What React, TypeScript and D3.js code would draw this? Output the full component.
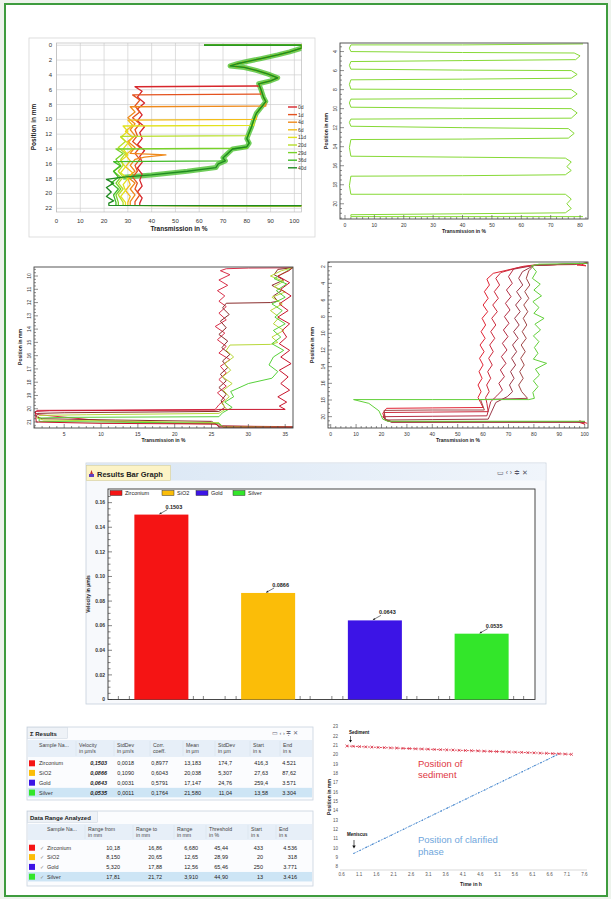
import React from 'react';
import * as d3 from 'd3';

const FONT = '"Liberation Sans", Arial, sans-serif';
type Pt = number[];

// ---------- top left: transmission profiles over 40 days
const p1Days = ['0d', '1d', '4d', '6d', '11d', '20d', '29d', '36d', '40d'];
const p1Colors = ['#d7262b', '#e4531f', '#ef8a1c', '#f3bd1a', '#e2e21e', '#b7df2a', '#78d22a', '#3fbb27', '#1f8a20'];
const p1Fronts = [5.5, 6.6, 8.2, 10.0, 10.8, 12.2, 13.9, 15.6, 17.9];
const p1Top: Pt[] = [[62, 0], [103, 0], [103, 0.4], [98, 0.9], [93, 1.3], [86, 1.8], [80, 2.2], [76, 2.5], [73, 2.8], [79, 3.0], [84, 3.4], [89, 3.9], [93, 4.4], [90, 4.8], [85, 5.2]];
const p1Right: Pt[] = [[86, 6], [87, 7], [88, 7.6], [86, 8.4], [84, 9.2], [83, 10], [82, 11], [81, 11.8], [80, 12.6], [81, 13.2], [80, 13.7], [74, 14.0], [72, 14.6], [70, 15.2], [71, 15.6], [68, 16.0], [67, 16.5]];
const p1Slope: Pt[] = [[55, 17.0], [40, 17.5], [28, 17.8]];
const p1Bodies: Pt[][] = [
  [[33, 5.6], [36, 6.2], [34, 7], [37, 7.8], [34, 8.6], [36, 9.4], [34, 10.2], [37, 11], [35, 11.8], [36, 12.6], [34, 13.4], [37, 14.2], [35, 15], [36, 15.8], [34, 16.6], [36, 17.4], [35, 18.2], [36, 19], [34, 19.8], [36, 20.6], [35, 21.3]],
  [[32, 6.7], [35, 7.4], [33, 8.2], [35, 9], [32, 9.8], [35, 10.6], [33, 11.4], [34, 12.2], [32, 13], [35, 13.8], [33, 14.6], [35, 15.4], [33, 16.2], [34, 17], [32, 17.8], [34, 18.6], [33, 19.4], [35, 20.2], [33, 21.1]],
  [[31, 8.3], [33, 9], [30, 9.8], [33, 10.6], [31, 11.4], [33, 12.2], [30, 13], [33, 13.8], [31, 14.6], [46, 14.8], [37, 15.1], [33, 15.4], [31, 16.2], [33, 17], [30, 17.8], [33, 18.6], [31, 19.4], [33, 20.2], [31, 21.1]],
  [[30, 10.1], [32, 10.8], [29, 11.6], [32, 12.4], [30, 13.2], [32, 14], [29, 14.8], [31, 15.6], [29, 16.4], [32, 17.2], [30, 18], [31, 18.8], [29, 19.6], [31, 20.4], [30, 21.2]],
  [[28, 10.9], [30, 11.6], [27, 12.4], [30, 13.2], [28, 14], [30, 14.8], [27, 15.6], [29, 16.4], [27, 17.2], [30, 18], [28, 18.8], [29, 19.6], [27, 20.4], [29, 21.2]],
  [[27, 12.3], [29, 13], [26, 13.8], [29, 14.6], [27, 15.4], [28, 16.2], [26, 17], [28, 17.8], [26, 18.6], [28, 19.4], [26, 20.2], [28, 21.2]],
  [[25, 14], [28, 14.6], [25, 15.4], [27, 16.2], [24, 17], [27, 17.8], [25, 18.6], [27, 19.4], [25, 20.2], [26, 21.2]],
  [[24, 15.7], [27, 16.3], [24, 17], [26, 17.8], [23, 18.6], [26, 19.4], [24, 20.2], [25, 21.2]],
  [[21, 18.1], [24, 18.6], [21, 19.2], [23, 19.8], [21, 20.4], [24, 21], [22, 21.3]],
];
const p1XTicks = [0, 10, 20, 30, 40, 50, 60, 70, 80, 90, 100];
const p1YTicks = [0, 2, 4, 6, 8, 10, 12, 14, 16, 18, 20, 22];

// ---------- top right: single scan
const p2Path: Pt[] = [
  [81, 3.2], [40, 3.3], [2, 3.3], [1.5, 3.65], [2, 4.0], [40, 4.1], [78, 4.15], [80, 4.45], [78.5, 4.85], [40, 4.95], [2, 5.05],
  [1.5, 5.45], [2, 5.85], [40, 5.95], [77, 6.0], [79, 6.4], [77, 6.8], [40, 6.9], [2, 6.97], [1.5, 7.45], [2, 7.95], [40, 8.0],
  [77, 8.0], [79, 8.45], [77, 8.9], [40, 8.95], [2, 9.0], [1.5, 9.4], [2, 9.85], [40, 9.95], [77, 10.0], [79, 10.45], [77, 11.0],
  [40, 11.05], [2, 11.1], [1.5, 11.45], [2, 11.85], [40, 12.0], [76, 12.1], [78, 12.6], [76, 13.1], [40, 13.2], [2, 13.25],
  [1.5, 14.1], [2, 15.0], [40, 15.1], [75, 15.2], [77, 15.6], [75.5, 16.1], [77, 16.5], [75, 16.95], [40, 17.05], [2, 17.1],
  [1.5, 18.1], [2, 19.0], [40, 19.0], [75, 19.0], [77, 19.5], [75.5, 20.0], [77, 20.5], [75, 20.95], [40, 21.05], [2, 21.15],
  [2, 21.35], [81, 21.35],
];
const p2XTicks = [0, 10, 20, 30, 40, 50, 60, 70, 80];
const p2YTicks = [4, 6, 8, 10, 12, 14, 16, 18, 20];

// ---------- middle left
const p3Colors = ['#d8304a', '#8a2e2e', '#b8d83a', '#56d13a', '#c8142c'];
const p3Series: Pt[][] = [
  [[36, 9.38], [30, 9.4], [27, 9.45], [26.2, 9.6], [27.5, 9.9], [26, 10.3], [27.2, 10.7], [25.8, 11.1], [26.8, 11.5], [26, 11.9], [27, 12.3], [26, 12.8], [27, 13.3], [25.5, 13.8], [26.8, 14.3], [25.8, 14.8], [27, 15.3], [26, 15.8], [27.5, 16.3], [26.2, 16.8], [27, 17.3], [26, 17.8], [27, 18.3], [25.8, 18.8], [26.8, 19.3], [26, 19.7], [25.5, 20.05], [10, 20.1], [1.3, 20.12], [1.0, 20.3], [1.6, 20.45], [10, 20.9], [20, 21.1], [26, 21.15], [26.5, 21.3], [36, 21.35]],
  [[36, 9.38], [34, 9.5], [33.5, 9.9], [34.8, 10.3], [33.2, 10.7], [34.5, 11.1], [33.4, 11.5], [34, 11.9], [33, 12.0], [27, 12.05], [26.5, 12.4], [27.4, 12.9], [26.2, 13.4], [27, 13.9], [26, 14.4], [27.2, 14.9], [26.4, 15.4], [27.5, 15.9], [26.5, 16.4], [27.2, 16.9], [26.2, 17.4], [27, 17.9], [26, 18.4], [27, 18.9], [26.3, 19.4], [26.8, 19.9], [26, 20.2], [5, 20.3], [1.4, 20.35], [1.2, 20.6], [2, 20.75], [12, 20.85], [25, 20.95], [26, 21.3], [36, 21.38]],
  [[36, 9.38], [34.5, 9.6], [33, 10], [34.8, 10.4], [33.5, 10.8], [35, 11.2], [33.2, 11.6], [34.6, 12.1], [33, 12.6], [34.2, 13.1], [33.4, 13.6], [34.8, 14.1], [33.2, 14.6], [34, 15.0], [33, 15.15], [27.5, 15.2], [27, 15.6], [28, 16.1], [26.8, 16.6], [27.6, 17.1], [26.5, 17.6], [27.8, 18.1], [26.6, 18.6], [27.4, 19.1], [26.4, 19.6], [27, 20.0], [26, 20.35], [8, 20.45], [1.6, 20.5], [1.3, 20.7], [2.2, 20.85], [15, 20.95], [26, 21.05], [26.5, 21.35], [36, 21.4]],
  [[36, 9.38], [35, 9.7], [33.5, 10.2], [35.2, 10.6], [33.8, 11.1], [35, 11.6], [33.2, 12.1], [34.6, 12.6], [33.6, 13.1], [35, 13.6], [33.4, 14.1], [34.4, 14.6], [33.2, 15.1], [34.8, 15.6], [33.4, 16.1], [32.8, 16.7], [34, 17.2], [33.2, 17.7], [30, 18.1], [27.6, 18.7], [28, 19.1], [26.8, 19.5], [27.8, 19.9], [26.5, 20.3], [26, 20.6], [5, 20.65], [1.6, 20.7], [1.6, 20.95], [10, 21.0], [26, 21.1], [26.6, 21.4], [36, 21.42]],
  [[36, 9.38], [35.5, 9.6], [34, 10], [35.6, 10.5], [34.4, 11], [35.8, 11.5], [34.2, 12.1], [35.4, 12.6], [34, 13.1], [35.6, 13.6], [34.6, 14.1], [35.2, 14.6], [34.2, 15.1], [35.6, 15.6], [34.4, 16.1], [35.8, 16.6], [34.2, 17.1], [35.4, 17.6], [34.4, 18.1], [35.6, 18.6], [34, 19.1], [35.2, 19.5], [34.2, 19.8], [35, 20.05], [26, 20.05], [25.5, 20.1], [3, 20.15], [1.1, 20.2], [1.2, 21.0], [10, 21.1], [25.6, 21.15], [26, 21.38], [36, 21.4]],
];
const p3XTicks = [5, 10, 15, 20, 25, 30, 35];
const p3YTicks = [10, 11, 12, 13, 14, 15, 16, 17, 18, 19, 20, 21];

// ---------- middle right
const p4Colors = ['#e02434', '#cc2a3c', '#b42f45', '#9c3a4a', '#a04848', '#62d03a'];
const p4Series: Pt[][] = [
  [[101, 1.5], [97, 1.8], [100.5, 1.9], [98, 1.6], [96, 1.75], [80, 1.8], [76, 1.95], [64, 2.8], [61.5, 3.5], [62.5, 4.2], [60.5, 5], [62, 5.8], [60, 6.6], [61.8, 7.4], [59.6, 8.2], [61, 9], [59.2, 9.8], [60.8, 10.6], [58.8, 11.4], [60.4, 12.2], [58.6, 13], [60, 13.8], [58.4, 14.6], [59.6, 15.4], [58, 16.2], [59.2, 17], [58, 17.7], [59, 18.3], [60, 18.9], [40, 18.95], [22, 19.0], [20.5, 19.6], [21.5, 20.4], [24, 20.6], [97, 20.6], [100, 20.9], [98, 20.5], [101, 20.8]],
  [[101, 1.6], [80, 1.85], [74, 2.1], [67, 2.7], [65, 3.4], [66.5, 4.2], [64.4, 5], [66, 5.8], [63.8, 6.6], [65.6, 7.4], [63.4, 8.2], [65, 9], [63, 9.8], [64.6, 10.6], [62.6, 11.4], [64, 12.2], [62.2, 13], [63.6, 13.8], [61.8, 14.6], [63, 15.4], [61.4, 16.2], [62.4, 17], [61, 17.7], [61.5, 18.4], [62, 19.4], [40, 19.45], [21, 19.5], [21.5, 20.4], [24, 20.62], [100, 20.62]],
  [[101, 1.6], [80, 1.85], [72, 2.3], [70, 3.2], [71.5, 4], [69.2, 4.8], [71, 5.6], [68.8, 6.4], [70.6, 7.2], [68.4, 8], [70.2, 8.8], [68, 9.6], [69.8, 10.4], [67.6, 11.2], [69.4, 12], [67.2, 12.8], [69, 13.6], [66.8, 14.4], [68.4, 15.2], [66.2, 16], [67.6, 16.8], [65.4, 17.5], [63, 18.2], [61.5, 19.9], [40, 19.95], [20.5, 20.0], [21.8, 20.45], [24, 20.64], [100, 20.64]],
  [[101, 1.6], [80, 1.85], [75.5, 2.6], [74, 3.4], [75.6, 4.2], [73.2, 5], [75, 5.8], [72.8, 6.6], [74.6, 7.4], [72.4, 8.2], [74.2, 9], [72, 9.8], [73.8, 10.6], [71.6, 11.4], [73.2, 12.2], [71.2, 13], [72.8, 13.8], [70.8, 14.6], [72.2, 15.4], [70.4, 16.2], [71.6, 17], [69.5, 17.6], [65, 18.3], [62, 20.3], [40, 20.35], [21.5, 20.4], [24, 20.66], [100, 20.66]],
  [[101, 1.6], [80, 1.85], [78, 2.5], [77, 3.4], [78.4, 4.2], [76.4, 5], [78, 5.8], [76, 6.6], [77.6, 7.4], [75.8, 8.2], [77.2, 9], [75.4, 9.8], [77, 10.6], [75, 11.4], [76.6, 12.2], [74.8, 13], [76.2, 13.8], [74.4, 14.6], [75.8, 15.4], [74, 16.2], [75.2, 17], [77.5, 17.8], [59, 17.95], [60.5, 19.2], [40, 19.2], [21, 19.25], [21.5, 20.3], [24, 20.6], [100, 20.6]],
  [[101, 1.6], [82, 1.7], [79, 1.9], [81, 2.6], [79.4, 3.4], [82.5, 4.1], [80, 4.8], [83, 5.5], [79.6, 6.2], [82, 6.9], [80, 7.6], [84, 8.2], [80.4, 8.9], [82.6, 9.6], [79.8, 10.3], [82, 11], [80.2, 11.7], [81.6, 12.4], [79.8, 13.1], [85, 13.6], [80.6, 14.3], [82.2, 15], [79.8, 15.7], [81.6, 16.4], [79.6, 17.1], [80.2, 17.8], [78, 17.95], [40, 17.95], [9, 17.95], [15, 18.4], [19, 19.3], [20.5, 20.3], [22.5, 20.55], [100, 20.55]],
];
const p4XTicks = [0, 10, 20, 30, 40, 50, 60, 70, 80, 90, 100];
const p4YTicks = [2, 4, 6, 8, 10, 12, 14, 16, 18, 20];

// ---------- bar graph
const samples = ['Zirconium', 'SiO2', 'Gold', 'Silver'];
const sampleColors = ['#f51414', '#fbbd08', '#3c14e6', '#33e62a'];
const velocities = [0.1503, 0.0866, 0.0643, 0.0535];
const barYTicks = [0, 0.02, 0.04, 0.06, 0.08, 0.1, 0.12, 0.14, 0.16];

// ---------- results tables
const resHeaders = [['Sample Na...', ''], ['Velocity', 'in µm/s'], ['StdDev', 'in µm/s'], ['Corr.', 'coeff.'], ['Mean', 'in µm'], ['StdDev', 'in µm'], ['Start', 'in s'], ['End', 'in s']];
const resVelocity = ['0,1503', '0,0866', '0,0643', '0,0535'];
const resStdDev = ['0,0018', '0,1090', '0,0031', '0,0011'];
const resCorr = ['0,8977', '0,6043', '0,5791', '0,1764'];
const resMean = ['13,183', '20,038', '17,147', '21,580'];
const resStdMean = ['174,7', '5,307', '24,76', '11,04'];
const resStart = ['416,3', '27,63', '259,4', '13,58'];
const resEnd = ['4.521', '87,62', '3.571', '3.304'];

const rngHeaders = [['Sample Na...', ''], ['Range from', 'in mm'], ['Range to', 'in mm'], ['Range', 'in mm'], ['Threshold', 'in %'], ['Start', 'in s'], ['End', 'in s']];
const rngFrom = ['10,18', '8,150', '5,320', '17,81'];
const rngTo = ['16,86', '20,65', '17,88', '21,72'];
const rngRange = ['6,680', '12,65', '12,56', '3,910'];
const rngThreshold = ['45,44', '28,99', '65,46', '44,90'];
const rngStart = ['433', '20', '250', '13'];
const rngEnd = ['4.536', '318', '3.771', '3.416'];

// ---------- position vs time
const sedTimes = [0.75, 0.93, 1.11, 1.29, 1.47, 1.65, 1.83, 2.01, 2.19, 2.37, 2.55, 2.73, 2.91, 3.09, 3.27, 3.45, 3.63, 3.81, 3.99, 4.17, 4.35, 4.53, 4.71, 4.89, 5.07, 5.25, 5.43, 5.61, 5.79, 5.97, 6.15, 6.33, 6.51, 6.69, 6.87, 7.05, 7.23];
const sedPos = [20.93, 20.9, 20.87, 20.84, 20.81, 20.78, 20.76, 20.73, 20.71, 20.68, 20.66, 20.63, 20.61, 20.59, 20.56, 20.54, 20.52, 20.5, 20.47, 20.45, 20.43, 20.41, 20.38, 20.36, 20.34, 20.32, 20.29, 20.27, 20.25, 20.22, 20.2, 20.17, 20.15, 20.12, 20.1, 20.07, 20.04];
const clarTimes = [0.95, 1.13, 1.31, 1.49, 1.67, 1.85, 2.03, 2.21, 2.39, 2.57, 2.75, 2.93, 3.11, 3.29, 3.47, 3.65, 3.83, 4.01, 4.19, 4.37, 4.55, 4.73, 4.91, 5.09, 5.27, 5.45, 5.63, 5.81, 5.99, 6.17, 6.35, 6.53, 6.71, 6.8];
const clarPos = [9.43, 9.75, 10.08, 10.4, 10.73, 11.05, 11.37, 11.7, 12.02, 12.35, 12.67, 12.99, 13.32, 13.64, 13.97, 14.29, 14.61, 14.94, 15.26, 15.59, 15.91, 16.23, 16.56, 16.88, 17.21, 17.53, 17.85, 18.18, 18.5, 18.83, 19.15, 19.47, 19.8, 19.96];
const timeTicks = [0.6, 1.1, 1.6, 2.1, 2.6, 3.1, 3.6, 4.1, 4.6, 5.1, 5.6, 6.1, 6.6, 7.1, 7.6];
const posTicks = [8, 9, 10, 11, 12, 13, 14, 15, 16, 17, 18, 19, 20, 21, 22, 23];

const mkLine = (xs: any, ys: any) => d3.line<Pt>().x(d => xs(d[0])).y(d => ys(d[1]));

// generic profile plot with inward ticks (panels 2-4)
function ProfilePlot(props: any) {
  const { id, xDom, xR, yDom, yR, xTicks, yTicks, xMinor, yMinor, series, colors, lx, ly, tx } = props;
  const x = d3.scaleLinear().domain(xDom).range(xR);
  const y = d3.scaleLinear().domain(yDom).range(yR);
  const line = mkLine(x, y);
  const xm = d3.range(Math.ceil(xDom[0] / xMinor) * xMinor, xDom[1], xMinor);
  const ym = d3.range(Math.ceil(yDom[0] / yMinor) * yMinor, yDom[1], yMinor);
  return (
    <g fontFamily={FONT}>
      <defs>
        <clipPath id={id}><rect x={xR[0]} y={yR[0]} width={xR[1] - xR[0]} height={yR[1] - yR[0]} /></clipPath>
      </defs>
      <rect x={xR[0]} y={yR[0]} width={xR[1] - xR[0]} height={yR[1] - yR[0]} fill="#fff" />
      <g clipPath={`url(#${id})`}>
        {series.map((s: Pt[], i: number) => (
          <path key={i} d={line(s) as string} fill="none" stroke={colors[i]} strokeWidth={1} strokeLinejoin="round" />
        ))}
      </g>
      <rect x={xR[0]} y={yR[0]} width={xR[1] - xR[0]} height={yR[1] - yR[0]} fill="none" stroke="#444" strokeWidth={0.9} />
      {xm.map((v: number, i: number) => (
        <line key={'xm' + i} x1={x(v)} x2={x(v)} y1={yR[1]} y2={yR[1] - (xTicks.includes(v) ? 4 : 2)} stroke="#444" strokeWidth={0.6} />
      ))}
      {ym.map((v: number, i: number) => (
        <line key={'ym' + i} x1={xR[0]} x2={xR[0] + (yTicks.includes(+v.toFixed(2)) ? 4 : 2)} y1={y(v)} y2={y(v)} stroke="#444" strokeWidth={0.6} />
      ))}
      {xTicks.map((v: number) => (
        <text key={'xt' + v} x={x(v)} y={yR[1] + 8} fontSize={5} textAnchor="middle" fill="#333">{v}</text>
      ))}
      {yTicks.map((v: number) => (
        <text key={'yt' + v} transform={`translate(${xR[0] - 3},${y(v)}) rotate(-90)`} fontSize={5} textAnchor="middle" fill="#333">{v}</text>
      ))}
      <text x={(xR[0] + xR[1]) / 2} y={yR[1] + 14} fontSize={5} fontWeight="bold" textAnchor="middle" fill="#222">{tx}</text>
      <text transform={`translate(${lx},${ly}) rotate(-90)`} fontSize={5} fontWeight="bold" textAnchor="middle" fill="#222">Position in mm</text>
    </g>
  );
}

function Panel1() {
  const x = d3.scaleLinear().domain([0, 103]).range([56.5, 301.5]);
  const y = d3.scaleLinear().domain([-0.3, 22.5]).range([43, 212]);
  const line = mkLine(x, y);
  const series = p1Bodies.map((body, i) => {
    const front = p1Fronts[i];
    const edge = p1Right.filter(p => p[1] < front);
    const last = edge.length ? edge[edge.length - 1] : p1Top[p1Top.length - 1];
    const step = front > 16.6 ? p1Slope : [[last[0], front]];
    const end = body[body.length - 1];
    return [...p1Top, ...edge, ...step, ...body, [end[0], 21.6], [103, 21.65]];
  });
  return (
    <g fontFamily={FONT}>
      <rect x={29} y={38} width={286} height={199} fill="#fff" stroke="#d6d6d6" strokeWidth={0.8} />
      <defs>
        <clipPath id="p1c"><rect x={56.5} y={43} width={245} height={169} /></clipPath>
      </defs>
      {p1XTicks.map(v => <line key={'gx' + v} x1={x(v)} x2={x(v)} y1={43} y2={212} stroke="#cfcfcf" strokeWidth={0.7} />)}
      {p1YTicks.map(v => <line key={'gy' + v} x1={56.5} x2={301.5} y1={y(v)} y2={y(v)} stroke="#cfcfcf" strokeWidth={0.7} />)}
      <rect x={56.5} y={43} width={245} height={169} fill="none" stroke="#bbb" strokeWidth={0.7} />
      <g clipPath="url(#p1c)">
        <path d={line([...p1Top.slice(2), ...p1Right, ...p1Slope]) as string} fill="none" stroke="#4cc232" strokeWidth={5} strokeLinejoin="round" opacity={0.8} />
        {series.map((s, i) => (
          <path key={i} d={line(s) as string} fill="none" stroke={p1Colors[i]} strokeWidth={1.3} strokeLinejoin="round" />
        ))}
      </g>
      {p1XTicks.map(v => <text key={'xt' + v} x={x(v)} y={223} fontSize={6} textAnchor="middle" fill="#333">{v}</text>)}
      {p1YTicks.map(v => <text key={'yt' + v} x={52} y={y(v) + 2} fontSize={6} textAnchor="end" fill="#333">{v}</text>)}
      <text x={179} y={231} fontSize={6.5} fontWeight="bold" textAnchor="middle" fill="#222">Transmission in %</text>
      <text transform="translate(36,127) rotate(-90)" fontSize={6.5} fontWeight="bold" textAnchor="middle" fill="#222">Position in mm</text>
      {p1Days.map((d, i) => (
        <g key={d} transform={`translate(288,${107 + i * 7.6})`}>
          <line x1={0} x2={9} y1={0} y2={0} stroke={p1Colors[i]} strokeWidth={1.4} />
          <text x={10} y={2} fontSize={5} fill="#333">{d}</text>
        </g>
      ))}
    </g>
  );
}

function BarPanel() {
  const x = d3.scaleBand().domain(samples).range([108, 535]).paddingInner(0.494).paddingOuter(0.247);
  const y = d3.scaleLinear().domain([0, 0.1711]).range([699.5, 489]);
  const minor = d3.range(0, 0.17, 0.005);
  const bw = x.bandwidth();
  return (
    <g fontFamily={FONT}>
      <defs>
        <linearGradient id="hdr" x1="0" x2="1" y1="0" y2="0">
          <stop offset="0" stopColor="#d9e6f4" />
          <stop offset="1" stopColor="#f0f5fb" />
        </linearGradient>
      </defs>
      <rect x={86} y={463} width={460} height={241} fill="#f7f9fc" stroke="#c5d0dc" strokeWidth={0.8} />
      <rect x={86.5} y={463.5} width={459} height={17} fill="url(#hdr)" />
      <rect x={86.5} y={465.5} width={84} height={15} fill="#fcf3c6" stroke="#d8cf9c" strokeWidth={0.6} />
      <path d="M89,477 L91.5,470 L94,477 Z" fill="#c03030" />
      <rect x={89} y={474} width={5} height={3} fill="#6040c0" />
      <text x={97} y={476.5} fontSize={7.5} fontWeight="bold" fill="#222">Results Bar Graph</text>
      <text x={497} y={475} fontSize={6.5} fill="#556">▭  ‹  ›  ≑ ✕</text>
      <rect x={108} y={489} width={427} height={210.5} fill="#fff" stroke="#333" strokeWidth={0.9} />
      {samples.map((s, i) => (
        <rect key={s} x={x(s)} y={y(velocities[i])} width={bw} height={699.5 - y(velocities[i])} fill={sampleColors[i]} />
      ))}
      {samples.map((s, i) => {
        const cx = (x(s) as number) + bw / 2;
        const ty = y(velocities[i]);
        return (
          <g key={'lab' + s}>
            <line x1={cx + 6} y1={ty - 5} x2={cx - 2} y2={ty - 0.5} stroke="#222" strokeWidth={0.6} />
            <path d={`M${cx - 2},${ty - 0.5} l2.5,-0.3 l-1.2,-1.6 Z`} fill="#222" />
            <text x={cx + 4} y={ty - 6} fontSize={5.5} fontWeight="bold" fill="#222">{velocities[i].toFixed(4)}</text>
          </g>
        );
      })}
      {minor.map((v, i) => (
        <line key={'m' + i} x1={108} x2={108 + (i % 4 === 0 ? 4 : 2.5)} y1={y(v)} y2={y(v)} stroke="#333" strokeWidth={0.6} />
      ))}
      {barYTicks.map(v => (
        <text key={'t' + v} x={105} y={y(v) + 1.8} fontSize={5} fontWeight="bold" textAnchor="end" fill="#333">{v === 0 ? '0' : v.toFixed(2)}</text>
      ))}
      {samples.map(s => {
        const x0 = x(s) as number;
        return [x0 - 16, x0 - 5, x0 + bw + 5, x0 + bw + 15].map((p, k) => (
          <line key={s + k} x1={p} x2={p} y1={699.5} y2={696} stroke="#333" strokeWidth={0.6} />
        ));
      })}
      <text transform="translate(90,594) rotate(-90)" fontSize={5} fontWeight="bold" textAnchor="middle" fill="#222">Velocity in µm/s</text>
      {samples.map((s, i) => {
        const lx = [110, 162, 196, 233][i];
        return (
          <g key={'lg' + s}>
            <rect x={lx} y={490.5} width={12} height={5} fill={sampleColors[i]} stroke="#333" strokeWidth={0.5} />
            <text x={lx + 15} y={495} fontSize={5.5} fill="#222">{s}</text>
          </g>
        );
      })}
    </g>
  );
}

function Table(props: any) {
  const { top, height, title, titleW, headers, headX, cols, colX, rowY, rowH, bold, check, hdrY, hdrH } = props;
  return (
    <g fontFamily={FONT}>
      <rect x={27} y={top} width={286} height={height} fill="#fbfcfe" stroke="#c9d3de" strokeWidth={0.8} />
      <rect x={27.5} y={top + 0.5} width={titleW} height={11} fill="#eef2f7" stroke="#c9d3de" strokeWidth={0.5} />
      <text x={30} y={top + 8.5} fontSize={6} fontWeight="bold" fill="#222">{title}</text>
      {title.startsWith('Σ') && <text x={272} y={top + 8} fontSize={5.5} fill="#667">▭  ‹  ›  ≑ ✕</text>}
      <rect x={28} y={hdrY} width={284} height={hdrH} fill="#e7eff8" />
      {headers.map((h: string[], i: number) => (
        <g key={i}>
          <text x={headX[i]} y={hdrY + 6.5} fontSize={5.2} fill="#444">{h[0]}</text>
          <text x={headX[i]} y={hdrY + 13} fontSize={5.2} fill="#444">{h[1]}</text>
          {i > 0 && <line x1={headX[i] - 3} x2={headX[i] - 3} y1={hdrY + 1} y2={hdrY + hdrH - 1} stroke="#d3dde8" strokeWidth={0.5} />}
        </g>
      ))}
      <rect x={28} y={rowY[3] - rowH / 2} width={284} height={rowH} fill="#cde5f5" />
      {samples.map((s, r) => (
        <g key={s}>
          <rect x={29} y={rowY[r] - 3} width={6} height={6} fill={sampleColors[r]} />
          {check && <text x={40} y={rowY[r] + 2} fontSize={5} fill="#888">✓</text>}
          <text x={headX[0]} y={rowY[r] + 2} fontSize={5.5} fill="#333">{s}</text>
          {cols.map((c: string[], k: number) => (
            <text key={k} x={colX[k]} y={rowY[r] + 2} fontSize={5.5} textAnchor="end" fill="#222"
              fontWeight={bold && k === 0 ? 'bold' : 'normal'} fontStyle={bold && k === 0 ? 'italic' : 'normal'}>{c[r]}</text>
          ))}
        </g>
      ))}
    </g>
  );
}

function TimePanel() {
  const x = d3.scaleLinear().domain([0.6, 7.6]).range([341.7, 584.3]);
  const y = d3.scaleLinear().domain([8, 23]).range([866.7, 726.7]);
  const sed: Pt[] = sedTimes.map((t, i) => [t, sedPos[i]]);
  const clar: Pt[] = clarTimes.map((t, i) => [t, clarPos[i]]);
  const line = mkLine(x, y);
  return (
    <g fontFamily={FONT}>
      <line x1={340} x2={587} y1={870} y2={870} stroke="#c8c8c8" strokeWidth={0.7} />
      {timeTicks.map(v => <text key={'x' + v} x={x(v)} y={876} fontSize={4.5} textAnchor="middle" fill="#555">{v.toFixed(1)}</text>)}
      {posTicks.map(v => <text key={'y' + v} x={338} y={y(v) + 1.5} fontSize={4.5} textAnchor="end" fill="#555">{v}</text>)}
      <text x={471} y={886} fontSize={5} fontWeight="bold" textAnchor="middle" fill="#222">Time in h</text>
      <text transform="translate(331,797) rotate(-90)" fontSize={5} fontWeight="bold" textAnchor="middle" fill="#222">Position in mm</text>
      <path d={line(sed) as string} fill="none" stroke="#e03346" strokeWidth={0.9} strokeDasharray="2,1" />
      {sed.map((p, i) => (
        <path key={'s' + i} d={`M${x(p[0]) - 1.4},${y(p[1]) - 1.4} l2.8,2.8 M${x(p[0]) - 1.4},${y(p[1]) + 1.4} l2.8,-2.8`} stroke="#d42238" strokeWidth={0.7} />
      ))}
      <path d={line(clar) as string} fill="none" stroke="#5b96d6" strokeWidth={0.9} strokeDasharray="2,1" />
      {clar.map((p, i) => <circle key={'c' + i} cx={x(p[0])} cy={y(p[1])} r={0.7} fill="#3f7fc8" />)}
      <text x={349} y={734} fontSize={4.5} fontWeight="bold" fill="#111">Sediment</text>
      <line x1={350.5} x2={350.5} y1={736} y2={741} stroke="#111" strokeWidth={0.6} />
      <path d="M349,740 L352,740 L350.5,742.5 Z" fill="#111" />
      <text x={347} y={836} fontSize={4.5} fontWeight="bold" fill="#111">Meniscus</text>
      <line x1={354} x2={354} y1={840} y2={847} stroke="#111" strokeWidth={0.7} />
      <path d="M352.3,845.5 L355.7,845.5 L354,848.5 Z" fill="#111" />
      <text x={418} y={767} fontSize={9.5} fill="#e0373f">Position of</text>
      <text x={418} y={778} fontSize={9.5} fill="#e0373f">sediment</text>
      <text x={418} y={843} fontSize={9.5} fill="#6fa6dc">Position of clarified</text>
      <text x={418} y={854.5} fontSize={9.5} fill="#6fa6dc">phase</text>
    </g>
  );
}

export default function App() {
  const tx = 'Transmission in %';
  return (
    <div style={{ position: 'absolute', left: 0, top: 0 }}>
      <svg width={611} height={899} viewBox="0 0 611 899" style={{ display: 'block' }}>
        <rect x={0} y={0} width={611} height={899} fill="#edf3ec" />
        <rect x={5} y={4} width={602} height={892} fill="#fff" stroke="#3e9c3e" strokeWidth={2} />
        <Panel1 />
        <ProfilePlot id="p2c" xDom={[-1.7, 82.7]} xR={[340, 588]} yDom={[3.1, 21.6]} yR={[43, 219]}
          xTicks={p2XTicks} yTicks={p2YTicks} xMinor={2} yMinor={0.5} series={[p2Path]} colors={['#86d936']}
          lx={328} ly={131} tx={tx} />
        <ProfilePlot id="p3c" xDom={[0.9, 36.06]} xR={[34, 293]} yDom={[9.32, 21.45]} yR={[267, 428]}
          xTicks={p3XTicks} yTicks={p3YTicks} xMinor={1} yMinor={0.25} series={p3Series} colors={p3Colors}
          lx={22} ly={347} tx={tx} />
        <ProfilePlot id="p4c" xDom={[-1.06, 101.3]} xR={[328, 588]} yDom={[1.44, 21.36]} yR={[262, 428]}
          xTicks={p4XTicks} yTicks={p4YTicks} xMinor={2} yMinor={0.5} series={p4Series} colors={p4Colors}
          lx={314} ly={345} tx={tx} />
        <BarPanel />
        <Table top={727} height={73} title="Σ Results" titleW={40} headers={resHeaders}
          headX={[39, 79, 117, 153, 186, 218, 253, 283]}
          cols={[resVelocity, resStdDev, resCorr, resMean, resStdMean, resStart, resEnd]}
          colX={[107, 134, 168, 201, 232, 268, 296]} rowY={[763.3, 772.9, 782.7, 792.6]} rowH={9.5}
          bold={true} check={false} hdrY={740} hdrH={17} />
        <Table top={811} height={75} title="Data Range Analyzed" titleW={70} headers={rngHeaders}
          headX={[47, 88, 136, 177, 209, 251, 279]}
          cols={[rngFrom, rngTo, rngRange, rngThreshold, rngStart, rngEnd]}
          colX={[120, 162, 198, 228, 263, 297]} rowY={[847.7, 857.1, 866.9, 876.7]} rowH={9.5}
          bold={false} check={true} hdrY={824} hdrH={16} />
        <TimePanel />
      </svg>
    </div>
  );
}
